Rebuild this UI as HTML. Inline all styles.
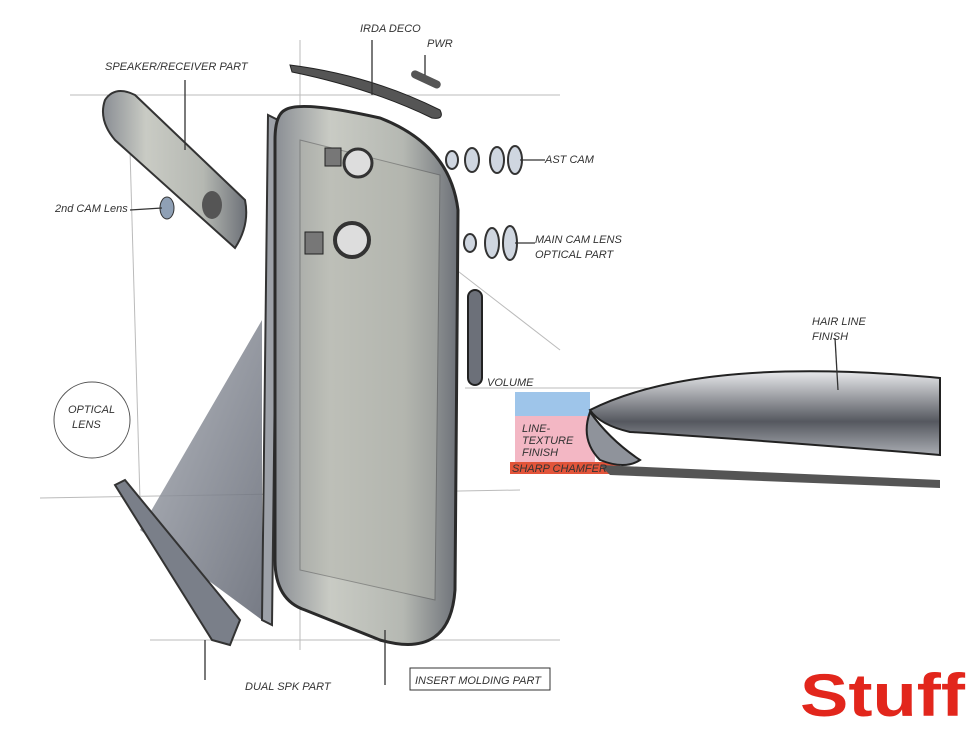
<!DOCTYPE html>
<html><head><meta charset="utf-8"><style>
html,body{margin:0;padding:0;background:#fff;}
svg text{font-family:"Liberation Sans",sans-serif;fill:#333;}
</style></head><body>
<svg width="980" height="735" viewBox="0 0 980 735" xmlns="http://www.w3.org/2000/svg">
<defs>
<linearGradient id="g1" x1="0" y1="0" x2="1" y2="0">
<stop offset="0" stop-color="#8a8e94"/><stop offset="0.3" stop-color="#c9cbc4"/><stop offset="0.7" stop-color="#b5b8b2"/><stop offset="1" stop-color="#6d7178"/></linearGradient>
<linearGradient id="g2" x1="0" y1="0" x2="1" y2="1">
<stop offset="0" stop-color="#a9adb5"/><stop offset="1" stop-color="#5f6470"/></linearGradient>
<linearGradient id="g3" x1="0" y1="0" x2="0" y2="1">
<stop offset="0" stop-color="#e8e9ec"/><stop offset="0.6" stop-color="#55585f"/><stop offset="1" stop-color="#aaadb3"/></linearGradient>
</defs>
<rect width="980" height="735" fill="#fff"/>
<g stroke="#bbb" stroke-width="1" fill="none">
<line x1="70" y1="95" x2="560" y2="95"/><line x1="40" y1="498" x2="520" y2="490"/>
<line x1="150" y1="640" x2="560" y2="640"/><line x1="300" y1="40" x2="300" y2="650"/>
<line x1="130" y1="150" x2="140" y2="500"/><line x1="450" y1="265" x2="560" y2="350"/>
<line x1="465" y1="388" x2="940" y2="388"/>
</g>
<polygon points="262,320 262,620 140,530" fill="url(#g2)" opacity="0.85"/>
<polygon points="115,485 125,480 240,620 230,645 212,640" fill="#7a7f89" stroke="#333" stroke-width="2"/>
<path d="M105,100 Q115,85 135,95 L245,200 Q250,225 235,248 L115,140 Q98,120 105,100Z" fill="url(#g1)" stroke="#333" stroke-width="2"/>
<ellipse cx="212" cy="205" rx="10" ry="14" fill="#555"/>
<ellipse cx="167" cy="208" rx="7" ry="11" fill="#8fa0b5" stroke="#333"/>
<path d="M268,115 L262,620 L272,625 L278,120Z" fill="#9da1a8" stroke="#333" stroke-width="2"/>
<path d="M285,110 Q300,100 380,118 Q450,145 458,210 L455,590 Q450,660 380,640 L305,610 Q275,600 275,560 L275,140 Q275,115 285,110Z" fill="url(#g1)" stroke="#2a2a2a" stroke-width="3"/>
<path d="M300,140 L440,175 L435,600 L300,570Z" fill="#b3b5ad" opacity="0.5" stroke="#555"/>
<circle cx="358" cy="163" r="14" fill="#ddd" stroke="#333" stroke-width="3"/>
<circle cx="352" cy="240" r="17" fill="#ddd" stroke="#333" stroke-width="4"/>
<rect x="325" y="148" width="16" height="18" fill="#777" stroke="#222"/>
<rect x="305" y="232" width="18" height="22" fill="#777" stroke="#222"/>
<path d="M290,65 Q370,75 440,110 Q445,120 432,118 Q370,88 292,72Z" fill="#555" stroke="#222"/>
<rect x="410" y="75" width="32" height="8" rx="4" fill="#555" transform="rotate(25 425 79)"/>
<g fill="#cfd6e0" stroke="#333" stroke-width="2">
<ellipse cx="452" cy="160" rx="6" ry="9"/><ellipse cx="472" cy="160" rx="7" ry="12"/><ellipse cx="497" cy="160" rx="7" ry="13"/><ellipse cx="515" cy="160" rx="7" ry="14"/>
<ellipse cx="470" cy="243" rx="6" ry="9"/><ellipse cx="492" cy="243" rx="7" ry="15"/><ellipse cx="510" cy="243" rx="7" ry="17"/>
</g>
<rect x="468" y="290" width="14" height="95" rx="7" fill="#6c7079" stroke="#222" stroke-width="2"/>
<rect x="515" y="392" width="75" height="24" fill="#9ec5ea"/>
<rect x="515" y="416" width="80" height="48" fill="#f3b7c4"/>
<rect x="510" y="462" width="110" height="12" fill="#e2543a"/>
<path d="M590,410 Q700,355 940,378 L940,455 Q760,440 630,432 Q600,425 590,410Z" fill="url(#g3)" stroke="#222" stroke-width="2"/>
<path d="M590,412 Q580,440 600,460 Q625,470 640,460 Q610,440 590,412Z" fill="#8f939b" stroke="#222" stroke-width="2"/>
<path d="M600,465 L940,480 L940,488 L610,475Z" fill="#555"/>
<circle cx="92" cy="420" r="38" fill="none" stroke="#555"/>
<g stroke="#333" stroke-width="1.3" fill="none">
<line x1="185" y1="80" x2="185" y2="150"/><line x1="372" y1="40" x2="372" y2="95"/>
<line x1="425" y1="55" x2="425" y2="75"/><line x1="520" y1="160" x2="545" y2="160"/>
<line x1="130" y1="210" x2="162" y2="208"/><line x1="515" y1="243" x2="535" y2="243"/>
<line x1="835" y1="338" x2="838" y2="390"/><line x1="205" y1="640" x2="205" y2="680"/>
<line x1="385" y1="630" x2="385" y2="685"/>
</g>
<rect x="410" y="668" width="140" height="22" fill="none" stroke="#333"/>
<g font-size="11" font-style="italic">
<text x="105" y="70">SPEAKER/RECEIVER PART</text>
<text x="360" y="32">IRDA DECO</text>
<text x="427" y="47">PWR</text>
<text x="545" y="163">AST CAM</text>
<text x="55" y="212">2nd CAM Lens</text>
<text x="535" y="243">MAIN CAM LENS</text>
<text x="535" y="258">OPTICAL PART</text>
<text x="812" y="325">HAIR LINE</text>
<text x="812" y="340">FINISH</text>
<text x="487" y="386">VOLUME</text>
<text x="522" y="432">LINE-</text><text x="522" y="444">TEXTURE</text><text x="522" y="456">FINISH</text>
<text x="512" y="472">SHARP CHAMFER</text>
<text x="68" y="413">OPTICAL</text><text x="72" y="428">LENS</text>
<text x="245" y="690">DUAL SPK PART</text>
<text x="415" y="684">INSERT MOLDING PART</text>
</g>
<text x="800" y="716" font-size="60" font-weight="bold" textLength="165" lengthAdjust="spacingAndGlyphs" style="fill:#e2261c">Stuff</text>
</svg>
</body></html>
